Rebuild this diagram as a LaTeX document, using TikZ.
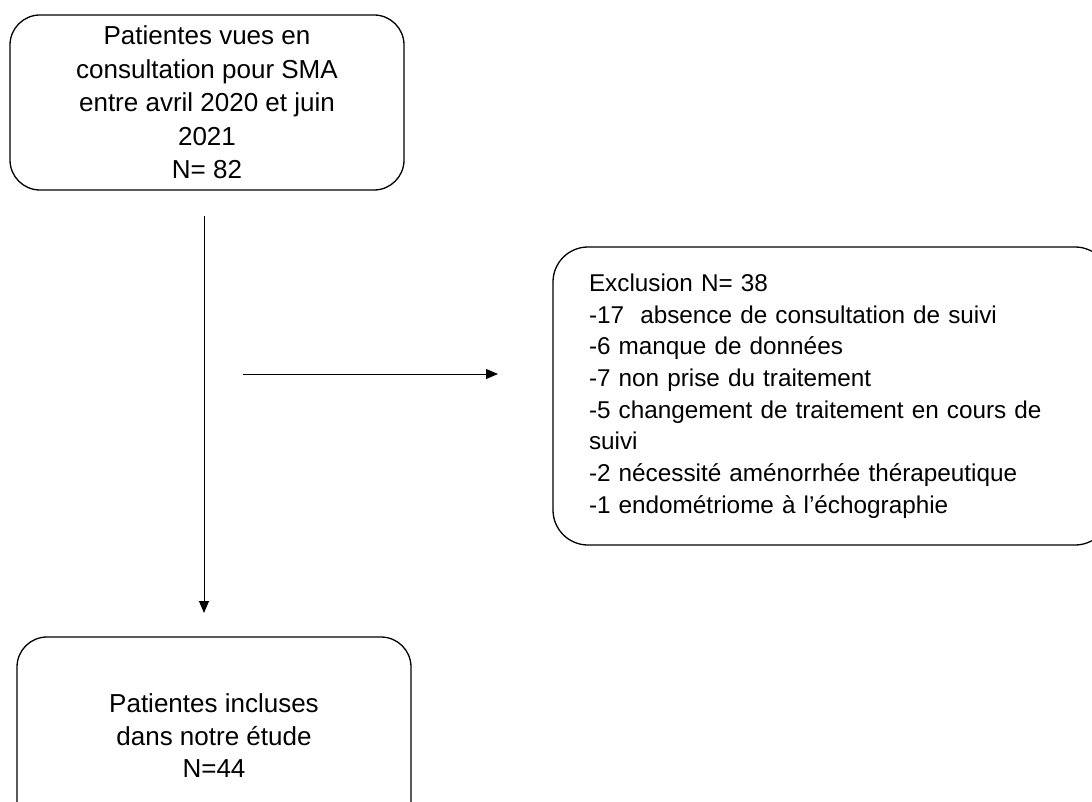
\documentclass[tikz,border=0pt]{standalone}
\usepackage{fontspec}
\setmainfont{Liberation Sans}
\usetikzlibrary{arrows.meta}
\tikzset{
  flowbox/.style={draw=black, line width=1.3pt, rounded corners=30pt, inner sep=0pt},
  flowarrow/.style={draw=black, line width=1pt, -{Triangle[length=12pt,width=10pt]}}
}
\begin{document}
\begin{tikzpicture}[x=1pt,y=-1pt]
\useasboundingbox (0,0) rectangle (1092,802);
\clip (0,0) rectangle (1092,802);
\node[flowbox, minimum width=394pt, minimum height=175pt, align=center,
      font=\fontsize{26}{33.5}\selectfont] (top) at (207,102.5)
  {\raisebox{0pt}[\height][\depth]{}Patientes vues en\\consultation pour SMA\\entre avril 2020 et juin\\2021\\N= 82};
\node[flowbox, minimum width=394pt, minimum height=198pt, align=center,
      font=\fontsize{26}{32.5}\selectfont] (bottom) at (214,736)
  {Patientes incluses\\dans notre étude\\N=44};
\node[flowbox, rounded corners=35pt, minimum width=557pt, minimum height=298pt,
      text width=485pt, align=left,
      font=\fontsize{24.3}{31.7}\selectfont] (excl) at (831.5,396)
  {Exclusion N= 38\\
   -17\ \ absence de consultation de suivi\\
   -6 manque de données\\
   -7 non prise du traitement\\
   -5 changement de traitement en cours de\\
   suivi\\
   -2 nécessité aménorrhée thérapeutique\\
   -1 endométriome à l’échographie};
\coordinate (vstart) at (204,216);
\coordinate (vend) at (204,613);
\coordinate (hstart) at (243,374);
\coordinate (hend) at (498,374);
\draw[flowarrow] (vstart) -- (vend);
\draw[flowarrow] (hstart) -- (hend);
\end{tikzpicture}
\end{document}
